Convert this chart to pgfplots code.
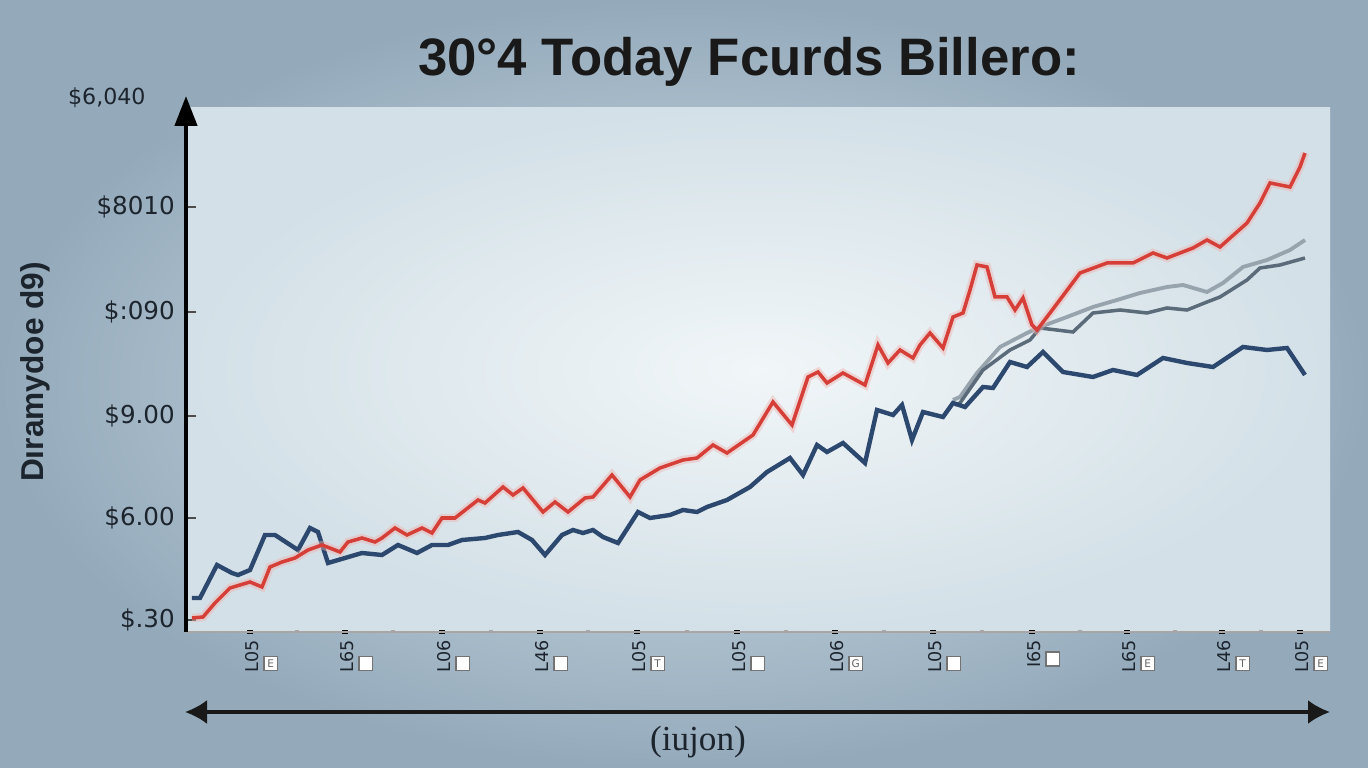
\documentclass[border=0pt]{standalone}
\usepackage{fontspec}
\setmainfont{Liberation Sans}
\newfontfamily\tickfont{DejaVu Sans}
\newfontfamily\serifname{Liberation Serif}
\usepackage{pgfplots}
\usepackage{pgfplotstable}
\pgfplotsset{compat=1.18}
\usetikzlibrary{arrows.meta}

\definecolor{bgin}{RGB}{214,226,233}
\definecolor{bgout}{RGB}{148,170,187}
\definecolor{panelin}{RGB}{241,246,248}
\definecolor{panelout}{RGB}{211,224,231}
\definecolor{redline}{RGB}{214,62,56}
\definecolor{blueline}{RGB}{44,72,110}
\definecolor{grayA}{RGB}{152,164,173}
\definecolor{grayB}{RGB}{92,107,121}
\definecolor{txt}{RGB}{28,36,46}
\setlength{\fboxsep}{0.5pt}

% x = horizontal position, y = value (arbitrary units)
\pgfplotstableread{
x y
192 34
200 34
217 67
232 59
238 57
250 62
265 97
275 97
298 82
310 104
318 100
328 69
345 74
362 79
382 77
398 87
417 79
432 87
448 87
462 92
485 94
498 97
518 100
532 92
545 77
562 97
573 102
583 99
593 102
603 95
618 89
638 120
650 114
670 117
683 122
697 120
707 125
727 132
750 145
767 160
790 174
803 157
817 187
827 180
843 189
865 169
877 222
893 217
902 227
912 192
923 220
943 215
953 229
965 225
983 245
993 244
1010 270
1027 265
1043 280
1063 260
1093 255
1113 262
1137 257
1163 274
1187 269
1213 265
1243 285
1267 282
1287 284
1305 257
}\bluedata

\pgfplotstableread{
x y
192 14
203 15
215 29
230 44
250 50
262 45
270 65
282 70
295 74
308 82
322 87
340 80
348 90
362 94
375 90
382 94
395 104
407 97
422 104
432 99
442 114
455 114
478 132
485 129
503 145
513 137
523 144
543 120
555 130
568 120
585 134
593 135
612 157
630 135
640 152
660 164
683 172
697 174
713 187
727 179
753 197
773 230
792 207
808 255
818 260
827 249
843 259
865 247
878 287
888 269
900 282
913 274
920 287
930 299
943 284
953 315
963 319
970 342
977 367
987 365
995 335
1007 335
1015 322
1023 334
1032 307
1037 302
1050 319
1080 359
1107 369
1133 369
1153 379
1167 374
1193 384
1207 392
1220 385
1247 409
1260 429
1270 449
1290 445
1300 465
1305 479
}\reddata

\pgfplotstableread{
x y
953 232
960 235
977 259
1000 285
1027 299
1040 305
1067 315
1093 325
1117 332
1140 339
1167 345
1183 347
1207 340
1223 349
1243 365
1267 372
1290 382
1305 392
}\grayAdata

\pgfplotstableread{
x y
955 227
960 229
983 262
1010 282
1030 292
1040 304
1073 300
1093 319
1120 322
1147 319
1167 324
1187 322
1207 330
1220 335
1247 352
1260 364
1280 367
1305 374
}\grayBdata

\newcommand{\tl}[2]{\rotatebox{90}{#1}\hspace{1.4pt}\raisebox{1.2pt}{\fcolorbox{black!55}{white}{\vbox to 2.6pt{\vss\hbox to 2.4pt{\hss\color{black!60}\fontsize{3}{3}\selectfont #2\hss}\vss}}}}

\begin{document}
\begin{tikzpicture}
\useasboundingbox (0,0) rectangle (13.68,7.68);
\shade[inner color=bgin, outer color=bgout] (0,0) rectangle (13.68,7.68);

\begin{axis}[
  at={(1.86cm,1.36cm)}, anchor=south west,
  scale only axis, width=11.44cm, height=5.24cm,
  xmin=186, xmax=1330, ymin=0, ymax=524,
  axis background/.style={shade, inner color=panelin, outer color=panelout},
  axis y line=left,
  axis x line=bottom,
  y axis line style={line width=1.3pt, -{Triangle[length=0.3cm,width=0.22cm]}, shorten >=-0.12cm},
  x axis line style={draw=black!35, line width=0.4pt, -},
  xtick={250,345,442,540,637,737,835,933,1032,1127,1222,1300},
  xticklabels={{\tl{L05}{E}},{\tl{L65}{}},{\tl{L06}{}},{\tl{L46}{}},{\tl{L05}{T}},{\tl{L05}{}},
               {\tl{L06}{G}},{\tl{L05}{}},{\tl{I65}{}},{\tl{L65}{E}},{\tl{L46}{T}},{\tl{L05}{E}}},
  minor xtick={297,393,491,588,687,786,884,982,1080,1175,1261},
  ytick={12,114,216,320,425},
  yticklabels={\$.30,\$6.00,\$9.00,\$:090,\$8010},
  tick align=center,
  xtick style={black, line width=1.6pt, /pgfplots/major tick length=0.04cm},
  minor x tick style={black!35, line width=1.2pt, /pgfplots/minor tick length=0.03cm},
  ytick style={black!70, line width=0.6pt, /pgfplots/major tick length=0.1cm, xshift=0.05cm},
  xticklabel style={font=\tickfont\fontsize{5}{6}\selectfont, text=txt, anchor=north west, inner sep=0pt, xshift=-1.6pt, yshift=0.0cm},
  yticklabel style={font=\tickfont\fontsize{7}{8}\selectfont, text=txt, anchor=east, inner sep=0pt, xshift=-0.03cm},
]
\addplot[grayA, line width=1.1pt] table {\grayAdata};
\addplot[grayB, line width=1.0pt] table {\grayBdata};
\addplot[blueline, line width=1.25pt] table {\bluedata};
\addplot[redline!40, line width=2.4pt, opacity=0.45] table {\reddata};
\addplot[redline, line width=1.0pt] table {\reddata};
\end{axis}

\node[anchor=east, font=\tickfont\fontsize{6.3}{7}\selectfont, text=txt] at (1.58,6.70) {\$6,040};
\node[rotate=90, font=\bfseries\fontsize{9}{11}\selectfont, text=txt] at (0.35,3.96) {Dıramydoe d9)};
\node[font=\bfseries\fontsize{15}{18}\selectfont, text=black!90] at (7.49,7.06) {30°4 Today Fcurds Billero:};
\draw[{Latex[length=0.22cm,width=0.24cm]}-{Latex[length=0.22cm,width=0.24cm]}, line width=0.9pt, black!90]
  (1.85,0.56) -- (13.30,0.56);
\node[font=\serifname\fontsize{10}{12}\selectfont, text=txt] at (6.98,0.26) {(iujon)};
\end{tikzpicture}
\end{document}
